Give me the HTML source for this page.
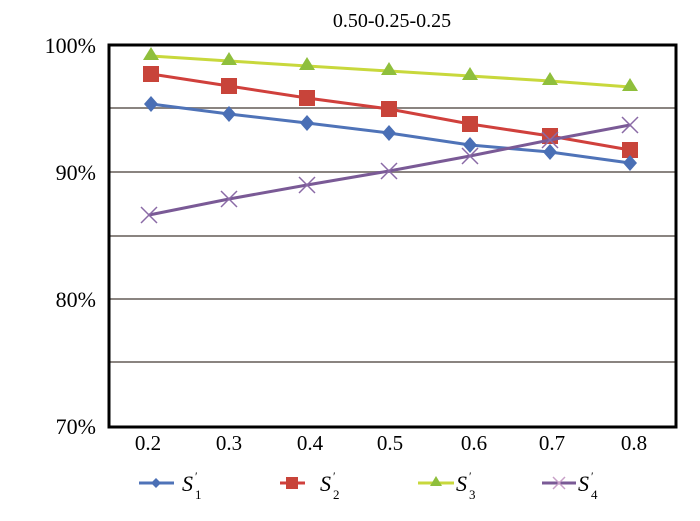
<!DOCTYPE html><html><head><style>body{margin:0;background:#fff}</style></head><body>
<svg width="700" height="516" xmlns="http://www.w3.org/2000/svg" font-family="Liberation Serif, serif">
<rect width="700" height="516" fill="#fff"/>
<text x="392" y="27" font-size="20" text-anchor="middle">0.50-0.25-0.25</text>
<g stroke="#8a8480" stroke-width="2">
<line x1="108" y1="108" x2="677" y2="108"/><line x1="108" y1="172" x2="677" y2="172"/>
<line x1="108" y1="236" x2="677" y2="236"/><line x1="108" y1="299" x2="677" y2="299"/>
<line x1="108" y1="362" x2="677" y2="362"/></g>
<rect x="109" y="45" width="567" height="382" fill="none" stroke="#000" stroke-width="3"/>
<g font-size="22" text-anchor="end"><text x="96" y="53">100%</text><text x="96" y="180">90%</text><text x="96" y="307">80%</text><text x="96" y="434">70%</text></g>
<g font-size="21" text-anchor="middle"><text x="148" y="450">0.2</text><text x="229" y="450">0.3</text><text x="310" y="450">0.4</text><text x="390" y="450">0.5</text><text x="474" y="450">0.6</text><text x="552" y="450">0.7</text><text x="634" y="450">0.8</text></g>
<polyline fill="none" stroke="#c8d83c" stroke-width="3" points="151,56 229,61 307,66 389,71 470,76 550,81 630,87"/>
<g fill="#8fbf3c"><path d="M151,47 l8,13 h-16z M229,52 l8,13 h-16z M307,57 l8,13 h-16z M389,62 l8,13 h-16z M470,67 l8,13 h-16z M550,72 l8,13 h-16z M630,78 l8,13 h-16z"/></g>
<polyline fill="none" stroke="#d0403c" stroke-width="3" points="151,74 229,86 307,98 389,109 470,124 550,136 630,150"/>
<g fill="#c8443a"><rect x="143" y="66" width="16" height="16"/><rect x="221" y="78" width="16" height="16"/><rect x="299" y="90" width="16" height="16"/><rect x="381" y="101" width="16" height="16"/><rect x="462" y="116" width="16" height="16"/><rect x="542" y="128" width="16" height="16"/><rect x="622" y="142" width="16" height="16"/></g>
<polyline fill="none" stroke="#4f73b8" stroke-width="3" points="151,104 229,114 307,123 389,133 470,145 550,152 630,163"/>
<g fill="#4a6fb5"><path d="M151,96 l7,8 -7,8 -7,-8z M229,106 l7,8 -7,8 -7,-8z M307,115 l7,8 -7,8 -7,-8z M389,125 l7,8 -7,8 -7,-8z M470,137 l7,8 -7,8 -7,-8z M550,144 l7,8 -7,8 -7,-8z M630,155 l7,8 -7,8 -7,-8z"/></g>
<polyline fill="none" stroke="#7a5a96" stroke-width="3" points="149,215 229,199 307,185 389,171 470,156 550,140 630,125"/>
<g stroke="#8a6aa6" stroke-width="1.5"><path d="M141,207 l16,16 M157,207 l-16,16 M221,191 l16,16 M237,191 l-16,16 M299,177 l16,16 M315,177 l-16,16 M381,163 l16,16 M397,163 l-16,16 M462,148 l16,16 M478,148 l-16,16 M542,132 l16,16 M558,132 l-16,16 M622,117 l16,16 M638,117 l-16,16"/></g>
<g font-size="22" font-style="italic">
<line x1="139" y1="483" x2="174" y2="483" stroke="#4f73b8" stroke-width="3"/><path d="M156,478 l5,5 -5,5 -5,-5z" fill="#4a6fb5"/>
<text x="182" y="491">S</text><text x="195" y="480" font-size="12" font-style="normal">′</text><text x="195" y="499" font-size="13" font-style="normal">1</text>
<line x1="280" y1="483" x2="305" y2="483" stroke="#d0403c" stroke-width="3"/><rect x="286" y="477" width="12" height="12" fill="#c8443a"/>
<text x="320" y="491">S</text><text x="333" y="480" font-size="12" font-style="normal">′</text><text x="333" y="499" font-size="13" font-style="normal">2</text>
<line x1="418" y1="483" x2="454" y2="483" stroke="#c8d83c" stroke-width="3"/><path d="M436,476 l6,10 h-12z" fill="#8fbf3c"/>
<text x="456" y="491">S</text><text x="469" y="480" font-size="12" font-style="normal">′</text><text x="469" y="499" font-size="13" font-style="normal">3</text>
<line x1="542" y1="483" x2="576" y2="483" stroke="#7a5a96" stroke-width="3"/><path d="M553,477 l12,12 M565,477 l-12,12" stroke="#c8a0c8" stroke-width="1.5"/>
<text x="578" y="491">S</text><text x="591" y="480" font-size="12" font-style="normal">′</text><text x="591" y="499" font-size="13" font-style="normal">4</text>
</g>
</svg></body></html>
